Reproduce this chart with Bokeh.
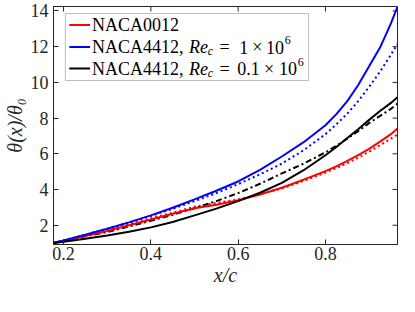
from bokeh.plotting import figure
from bokeh.models import Range1d, FixedTicker, BoxAnnotation
from bokeh.core.properties import value
from bokeh.embed import file_html
from bokeh.resources import INLINE

# ---- data ----
x = [0.177, 0.2, 0.25, 0.3, 0.35, 0.4, 0.45, 0.5, 0.55, 0.6, 0.65, 0.7, 0.75, 0.8,
     0.825, 0.85, 0.875, 0.9, 0.925, 0.95, 0.965]

naca0012_solid = [1.00, 1.12, 1.40, 1.68, 2.00, 2.32, 2.64, 2.95, 3.15, 3.40, 3.72, 4.10, 4.55, 5.03,
                  5.30, 5.60, 5.92, 6.28, 6.68, 7.10, 7.42]
naca0012_dot = [1.00, 1.13, 1.43, 1.72, 2.05, 2.38, 2.70, 3.03, 3.25, 3.45, 3.73, 4.06, 4.48, 4.95,
                5.20, 5.48, 5.78, 6.12, 6.48, 6.85, 7.08]

naca4412_re1_solid = [1.00, 1.15, 1.47, 1.80, 2.16, 2.55, 2.98, 3.45, 3.93, 4.45, 5.10, 5.85, 6.65, 7.60,
                      8.22, 8.95, 9.85, 10.90, 11.95, 13.30, 14.25]
naca4412_re1_dot = [1.00, 1.15, 1.47, 1.80, 2.15, 2.52, 2.92, 3.35, 3.80, 4.30, 4.85, 5.45, 6.20, 7.10,
                    7.65, 8.25, 8.95, 9.75, 10.60, 11.55, 12.15]

naca4412_re01_solid = [1.00, 1.08, 1.24, 1.42, 1.63, 1.88, 2.18, 2.55, 2.93, 3.35, 3.82, 4.37, 5.08, 5.92,
                       6.38, 6.88, 7.38, 7.90, 8.40, 8.85, 9.17]
naca4412_re01_dash = [1.00, 1.12, 1.38, 1.62, 1.93, 2.25, 2.58, 2.95, 3.35, 3.80, 4.32, 4.90, 5.45, 6.08,
                      6.45, 6.85, 7.27, 7.72, 8.12, 8.52, 8.81]

x_ticks = [0.2, 0.4, 0.6, 0.8]
y_ticks = [2, 4, 6, 8, 10, 12, 14]

legend_labels = ["NACA0012", "NACA4412, ", "NACA4412, "]
re_values = ["1", "0.1"]

# ---- layout ----
XMIN, XMAX = 0.177, 0.965
YMIN, YMAX = 0.92, 14.25
W, H = 399, 290
BL, BR, BT, BB = 49, 2, 6, 46
FL, FT = 8 + BL, 8 + BT                # frame left/top in page pixels
FW, FH = W - BL - BR, H - BT - BB      # frame size
SXP = FW / (XMAX - XMIN)
SYP = FH / (YMAX - YMIN)

def dx(px):
    return XMIN + (px - FL) / SXP

def dy(py):
    return YMAX - (py - FT) / SYP

SERIF = "Liberation Serif"
AX = "#262626"

p = figure(width=W, height=H, x_range=Range1d(XMIN, XMAX), y_range=Range1d(YMIN, YMAX),
           output_backend="svg", toolbar_location=None,
           min_border_left=BL, min_border_right=BR, min_border_top=BT, min_border_bottom=BB)
p.grid.visible = False
p.outline_line_color = AX
p.outline_line_width = 1
p.background_fill_color = "white"

for ax in p.xaxis + p.yaxis:
    ax.major_tick_in = 5
    ax.major_tick_out = 0
    ax.minor_tick_line_color = None
    ax.axis_line_color = AX
    ax.major_tick_line_color = AX
    ax.major_label_text_font = SERIF
    ax.major_label_text_font_size = "18px"
    ax.major_label_text_color = AX
    ax.axis_label_text_font = SERIF
    ax.axis_label_text_font_size = "20px"
    ax.axis_label_text_font_style = "italic"
    ax.axis_label_text_color = AX

p.xaxis.ticker = FixedTicker(ticks=x_ticks)
p.yaxis.ticker = FixedTicker(ticks=y_ticks)
p.xaxis.major_label_standoff = 2
p.yaxis.major_label_standoff = 5
p.xaxis.axis_label = "x/c"
p.yaxis.axis_label = "θ(x)/θ₀"
p.xaxis.axis_label_standoff = 1
p.yaxis.axis_label_standoff = 2

# mirrored ticks on top and right
tick_dy = 5 / SYP
tick_dx = 5 / SXP
p.segment(x0=x_ticks, x1=x_ticks, y0=[YMAX] * len(x_ticks), y1=[YMAX - tick_dy] * len(x_ticks),
          line_color=AX, line_width=1)
p.segment(x0=[XMAX] * len(y_ticks), x1=[XMAX - tick_dx] * len(y_ticks), y0=y_ticks, y1=y_ticks,
          line_color=AX, line_width=1)

LW = 2
p.line(x, naca0012_dot, line_color="#ff0000", line_width=LW, line_dash="2 3")
p.line(x, naca4412_re1_dot, line_color="#0000ff", line_width=LW, line_dash="2 3")
p.line(x, naca4412_re01_dash, line_color="#000000", line_width=LW, line_dash="6 3 2 3")
p.line(x, naca0012_solid, line_color="#ff0000", line_width=LW)
p.line(x, naca4412_re1_solid, line_color="#0000ff", line_width=LW)
p.line(x, naca4412_re01_solid, line_color="#000000", line_width=LW)

# ---- legend (built by hand to allow math-style labels) ----
p.add_layout(BoxAnnotation(left=dx(69), right=dx(315), top=dy(21), bottom=dy(88),
                           fill_color="white", fill_alpha=1.0, line_color=AX, line_width=1))
rows = [32.5, 54.5, 76.0]
colors = ["#ff0000", "#0000ff", "#000000"]
p.segment(x0=[dx(73)] * 3, x1=[dx(94)] * 3, y0=[dy(r) for r in rows], y1=[dy(r) for r in rows],
          line_color=colors, line_width=LW, level="overlay")

def txt(px, py, s, size="18px", style="normal"):
    p.text(x=[dx(px)], y=[dy(py)], text=[s], text_font=value(SERIF), text_font_size=size,
           text_font_style=style, text_baseline="middle", text_align="left",
           text_color="#000000", level="overlay")

for r, lab in zip(rows, legend_labels):
    txt(96, r, lab)

for r, rv, xs in zip(rows[1:], re_values, [(245, 258, 272, 291), (243, 270, 285, 304)]):
    txt(194, r, "Re", style="italic")
    txt(213, r + 4, "c", size="12px", style="italic")
    txt(225, r, "=")
    txt(xs[0], r, rv)
    txt(xs[1], r, "×")
    txt(xs[2], r, "10")
    txt(xs[3], r - 7, "6", size="12px")

open("out.html", "w").write(file_html(p, INLINE))
